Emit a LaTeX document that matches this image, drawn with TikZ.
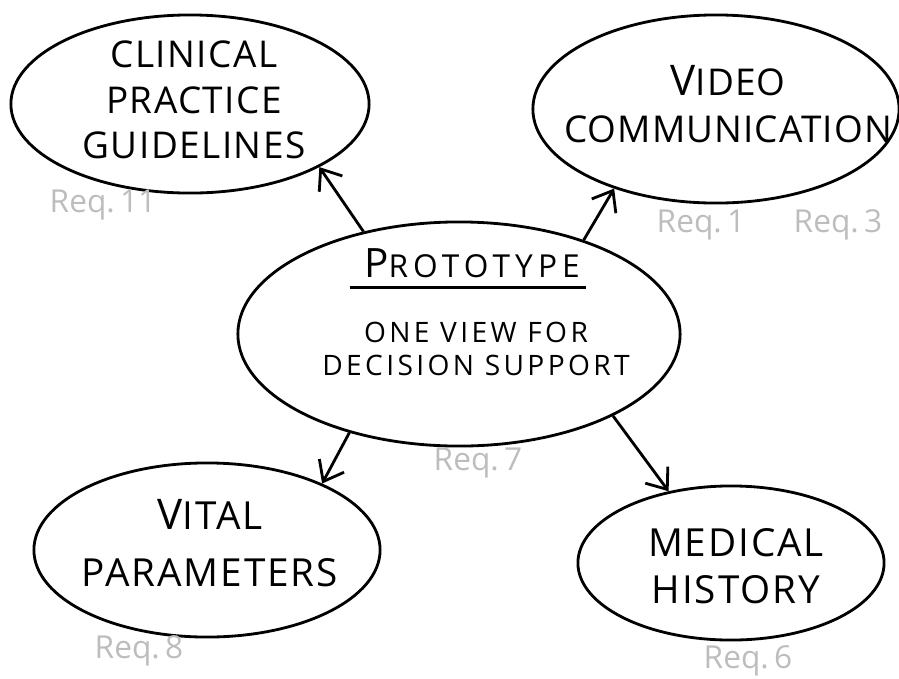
\documentclass[tikz,border=0pt]{standalone}
\usepackage{fontspec}
\setmainfont{Open Sans}
\usepackage{tikz}
\usetikzlibrary{arrows.meta, shapes.geometric}
\definecolor{reqgrey}{HTML}{BDBDBD}
\tikzset{
  topicnode/.style={ellipse,draw=black,line width=0.8pt,inner sep=0pt},
  topictext/.style={inner sep=0pt,align=center,font=\fontsize{10.5}{13}\selectfont\addfontfeature{LetterSpace=4}},
  subtext/.style={topictext,font=\fontsize{8}{9.6}\selectfont\addfontfeature{LetterSpace=12}},
  reqlabel/.style={inner sep=0pt,text=reqgrey,font=\fontsize{9}{10}\selectfont},
  linkedge/.style={-{Straight Barb[length=1.8mm,width=2.8mm]},line width=0.8pt,black},
}

\begin{document}
\begin{tikzpicture}[x=0.01cm,y=-0.01cm]
  \useasboundingbox (0,0) rectangle (899,678);
  % outer topics
  \node[topicnode,minimum width=3.58cm,minimum height=1.78cm] (nGuide) at (190,104) {};
  \node[topicnode,minimum width=3.66cm,minimum height=1.88cm] (nVideo) at (716,109) {};
  \node[topicnode,minimum width=3.46cm,minimum height=1.74cm] (nVital) at (207,550) {};
  \node[topicnode,minimum width=3.06cm,minimum height=1.54cm] (nHistory) at (731,563) {};
  % the prototype in the middle
  \node[topicnode,minimum width=4.42cm,minimum height=2.24cm] (nProto) at (459,334) {};
  \node[topictext,font=\addfontfeature{LetterSpace=16}] (tTitle) at (472,263) {{\fontsize{11.5}{12}\selectfont P}{\fontsize{9}{10}\selectfont ROTOTYPE}};
  \draw[line width=0.9pt] ([shift={(-14,9)}]tTitle.south west) -- ([shift={(6,9)}]tTitle.south east);
  \node[subtext] (tSub) at (476,349) {ONE VIEW FOR\\DECISION SUPPORT};

  \node[topictext] (tGuide) at (194,100) {CLINICAL\\PRACTICE\\GUIDELINES};
  \node[topictext,font=\fontsize{10.5}{13.5}\selectfont\addfontfeature{LetterSpace=3}] (tVideo) at (728,104) {{\fontsize{12}{12}\selectfont V}IDEO\\COMMUNICATION};
  \node[topictext,font=\fontsize{11}{16}\selectfont\addfontfeature{LetterSpace=5}] (tVital) at (210,543) {{\fontsize{12}{12}\selectfont V}ITAL\\PARAMETERS};
  \node[topictext,font=\fontsize{11}{13.5}\selectfont\addfontfeature{LetterSpace=5}] (tHistory) at (736,566) {MEDICAL\\HISTORY};

  % requirement numbers
  \node[reqlabel] (rGuide) at (103,205) {Req.\,11};
  \node[reqlabel] (rVideoA) at (701,225) {Req.\,1};
  \node[reqlabel] (rVideoB) at (838,225) {Req.\,3};
  \node[reqlabel] (rProto) at (478,463) {Req.\,7};
  \node[reqlabel] (rVital) at (139,651) {Req.\,8};
  \node[reqlabel] (rHistory) at (748,661) {Req.\,6};

  \draw[linkedge] (nProto.133) -- (nGuide.-26);
  \draw[linkedge] (nProto.37) -- (nVideo.-142);
  \draw[linkedge] (nProto.-138) -- (nVital.30);
  \draw[linkedge] (nProto.-28) -- (nHistory.131);
\end{tikzpicture}
\end{document}
